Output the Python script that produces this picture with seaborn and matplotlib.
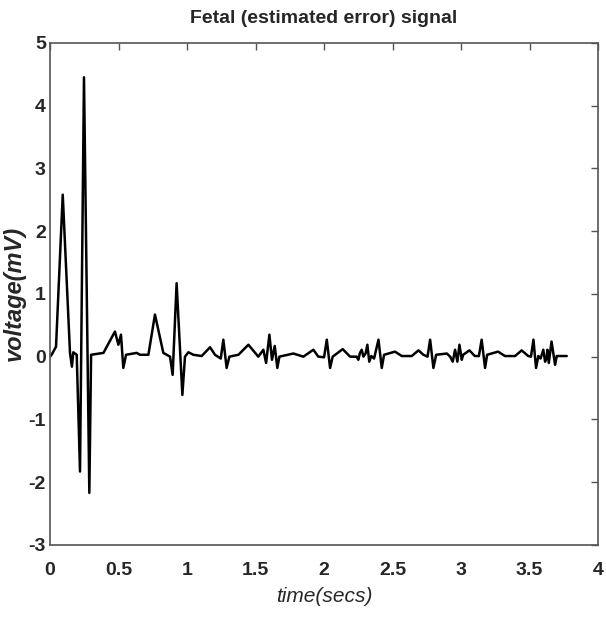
import matplotlib
matplotlib.use("Agg")
import matplotlib.pyplot as plt
import seaborn as sns
import pandas as pd

# points
time_s = [0.0, 0.012, 0.044, 0.093, 0.146, 0.16, 0.17, 0.195, 0.219, 0.248, 0.287, 0.30,
          0.39, 0.474, 0.499, 0.518, 0.535, 0.555, 0.633, 0.657, 0.718, 0.766, 0.827, 0.876,
          0.895, 0.924, 0.966, 0.985, 1.01, 1.046, 1.107, 1.168, 1.204, 1.246, 1.265, 1.289,
          1.309, 1.375, 1.448, 1.52, 1.557, 1.577, 1.601, 1.62, 1.64, 1.659, 1.674, 1.776,
          1.849, 1.922, 1.958, 2.0, 2.02, 2.044, 2.063, 2.136, 2.19, 2.238, 2.25, 2.262,
          2.275, 2.287, 2.303, 2.316, 2.33, 2.345, 2.365, 2.397, 2.421, 2.438, 2.518, 2.567,
          2.64, 2.689, 2.725, 2.755, 2.774, 2.798, 2.818, 2.896, 2.92, 2.939, 2.956, 2.973,
          2.988, 3.005, 3.015, 3.061, 3.1, 3.13, 3.15, 3.175, 3.19, 3.27, 3.32, 3.394, 3.442,
          3.49, 3.51, 3.528, 3.547, 3.564, 3.58, 3.6, 3.613, 3.625, 3.63, 3.64, 3.66, 3.686,
          3.698, 3.771]
voltage_mv = [0.0, 0.03, 0.16, 2.58, 0.06, -0.16, 0.07, 0.03, -1.83, 4.45, -2.17, 0.03,
              0.06, 0.40, 0.19, 0.35, -0.18, 0.03, 0.06, 0.03, 0.03, 0.67, 0.06, 0.0,
              -0.29, 1.17, -0.61, 0.0, 0.07, 0.03, 0.01, 0.15, 0.03, -0.03, 0.27, -0.18,
              0.0, 0.03, 0.19, 0.0, 0.11, -0.1, 0.35, -0.05, 0.17, -0.18, 0.0, 0.05,
              0.0, 0.11, 0.0, -0.01, 0.27, -0.18, 0.0, 0.12, 0.0, 0.0, -0.05, 0.06,
              0.11, 0.0, 0.05, 0.19, -0.08, 0.01, -0.03, 0.27, -0.18, 0.03, 0.08, 0.01,
              0.01, 0.1, 0.03, 0.0, 0.27, -0.18, 0.03, 0.05, 0.0, -0.08, 0.11, -0.08,
              0.19, -0.05, 0.03, 0.1, 0.01, 0.01, 0.27, -0.18, 0.03, 0.08, 0.01, 0.01, 0.1,
              0.01, 0.0, 0.27, -0.18, 0.01, -0.03, 0.11, -0.08, 0.0, 0.11, -0.1, 0.24, -0.13,
              0.01, 0.01]
xtick_vals = [0, 0.5, 1, 1.5, 2, 2.5, 3, 3.5, 4]
xtick_labels = ["0", "0.5", "1", "1.5", "2", "2.5", "3", "3.5", "4"]
ytick_vals = [-3, -2, -1, 0, 1, 2, 3, 4, 5]

df = pd.DataFrame({"time": time_s, "voltage": voltage_mv})

sns.set_style("white")
plt.rcParams["font.family"] = ["Liberation Sans", "DejaVu Sans"]
plt.rcParams["axes.unicode_minus"] = False

fig = plt.figure(figsize=(6.06, 6.2), dpi=100)
ax = fig.add_axes([0.0825, 0.121, 0.9045, 0.81])
sns.lineplot(data=df, x="time", y="voltage", color="black", linewidth=1.8, ax=ax)

ax.set_xlim(0, 4)
ax.set_ylim(-3, 5)
ax.set_xticks(xtick_vals)
ax.set_xticklabels(xtick_labels)
ax.set_yticks(ytick_vals)
ax.tick_params(direction="in", length=5, width=1, color="#555555",
               top=True, right=True, labelsize=14)
ax.tick_params(axis="x", pad=12)
ax.tick_params(axis="y", pad=3)
for lbl in ax.get_xticklabels() + ax.get_yticklabels():
    lbl.set_fontweight("bold")
for sp in ax.spines.values():
    sp.set_color("#555555")
    sp.set_linewidth(1.2)

ax.set_title("Fetal (estimated error) signal", fontsize=14, fontweight="bold", pad=14)
ax.set_xlabel("time(secs)", fontsize=15, fontstyle="italic", labelpad=6)
ax.set_ylabel("voltage(mV)", fontsize=17, fontstyle="italic", fontweight="bold")
ax.yaxis.set_label_coords(-0.045, 0.5)

plt.savefig("out.png", dpi=100)
